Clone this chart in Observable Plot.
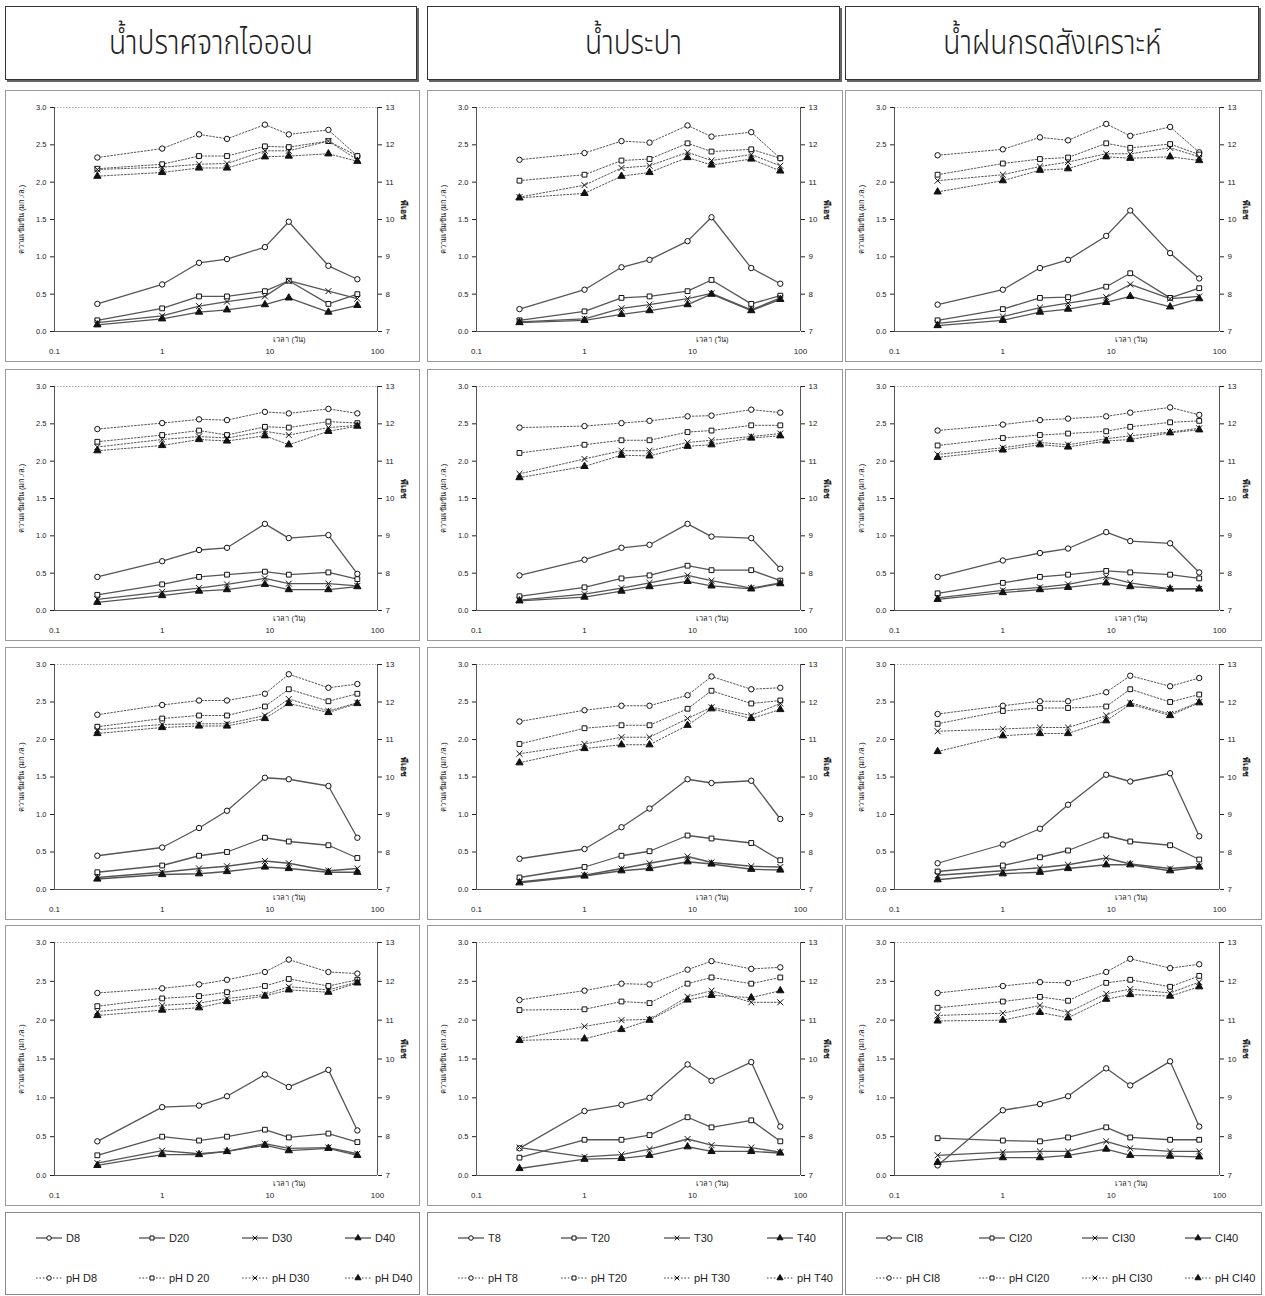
<!DOCTYPE html>
<html>
<head>
<meta charset="utf-8">
<script src="https://cdn.jsdelivr.net/npm/d3@7"></script>
<script src="https://cdn.jsdelivr.net/npm/@observablehq/plot@0.6"></script>
<style>
  body { margin: 0; background: #fff; }
  #page { position: relative; width: 1265px; height: 1296px; background: #fff; }
  .head {
    position: absolute; box-sizing: border-box; background: #fff;
    border: 1.5px solid #333; box-shadow: 2px 2px 0 #666;
    display: flex; align-items: center; justify-content: center;
    font-family: "Noto Sans Thai", "Noto Sans", "DejaVu Sans", sans-serif;
    font-size: 34px; font-weight: 300; color: #222;
  }
  .head span { display: inline-block; transform: scaleX(0.83); }
  .panel { position: absolute; box-sizing: border-box; border: 1px solid #999; background: #fff; }
  .legend { position: absolute; box-sizing: border-box; border: 1px solid #888; background: #fff;
    font-family: "Liberation Sans Narrow", "Liberation Sans", Arial, sans-serif; font-size: 11px; color: #222; }
  .item { position: absolute; display: flex; align-items: center; gap: 4px; white-space: nowrap; }
</style>
</head>
<body>
<div id="page"></div>
<script>
// sampling times (days)
const times = [0.25, 1, 2.2, 4, 9, 15, 35, 65];

const waterTypes = ["น้ำปราศจากไอออน", "น้ำประปา", "น้ำฝนกรดสังเคราะห์"];
const concLabels = [["D8", "D20", "D30", "D40"], ["T8", "T20", "T30", "T40"], ["CI8", "CI20", "CI30", "CI40"]];
const phLabels = [["pH D8", "pH D 20", "pH D30", "pH D40"], ["pH T8", "pH T20", "pH T30", "pH T40"], ["pH CI8", "pH CI20", "pH CI30", "pH CI40"]];
const concTicks = [0, 0.5, 1, 1.5, 2, 2.5, 3];
const timeTicks = [0.1, 1, 10, 100];

// concentration (mg/L), series order 8 / 20 / 30 / 40
const concD1 = [[0.37, 0.63, 0.92, 0.97, 1.13, 1.47, 0.88, 0.70], [0.15, 0.31, 0.47, 0.47, 0.54, 0.68, 0.37, 0.50], [0.12, 0.21, 0.34, 0.40, 0.47, 0.68, 0.54, 0.44], [0.09, 0.17, 0.26, 0.29, 0.36, 0.45, 0.26, 0.35]];
const concT1 = [[0.30, 0.56, 0.86, 0.96, 1.21, 1.53, 0.85, 0.64], [0.15, 0.27, 0.45, 0.47, 0.54, 0.69, 0.37, 0.48], [0.13, 0.17, 0.31, 0.36, 0.44, 0.51, 0.29, 0.45], [0.12, 0.15, 0.23, 0.28, 0.36, 0.50, 0.28, 0.43]];
const concC1 = [[0.36, 0.56, 0.85, 0.96, 1.28, 1.62, 1.05, 0.71], [0.15, 0.30, 0.45, 0.46, 0.60, 0.78, 0.45, 0.58], [0.11, 0.20, 0.32, 0.38, 0.46, 0.63, 0.44, 0.47], [0.08, 0.15, 0.26, 0.30, 0.39, 0.47, 0.33, 0.44]];
const concD2 = [[0.45, 0.66, 0.81, 0.84, 1.16, 0.97, 1.01, 0.49], [0.21, 0.35, 0.45, 0.48, 0.52, 0.48, 0.51, 0.42], [0.15, 0.25, 0.30, 0.35, 0.43, 0.36, 0.36, 0.33], [0.11, 0.20, 0.26, 0.28, 0.35, 0.28, 0.28, 0.32]];
const concT2 = [[0.47, 0.68, 0.84, 0.88, 1.16, 0.99, 0.97, 0.56], [0.19, 0.31, 0.43, 0.47, 0.60, 0.54, 0.54, 0.40], [0.14, 0.22, 0.30, 0.37, 0.47, 0.40, 0.30, 0.37], [0.13, 0.18, 0.26, 0.32, 0.39, 0.33, 0.29, 0.36]];
const concC2 = [[0.45, 0.67, 0.77, 0.83, 1.05, 0.93, 0.90, 0.51], [0.23, 0.37, 0.45, 0.48, 0.53, 0.51, 0.48, 0.43], [0.17, 0.27, 0.31, 0.35, 0.45, 0.37, 0.29, 0.29], [0.15, 0.24, 0.28, 0.31, 0.37, 0.32, 0.29, 0.29]];
const concD3 = [[0.45, 0.56, 0.82, 1.05, 1.49, 1.47, 1.38, 0.69], [0.23, 0.32, 0.45, 0.50, 0.69, 0.64, 0.59, 0.42], [0.16, 0.23, 0.28, 0.31, 0.38, 0.35, 0.25, 0.28], [0.14, 0.20, 0.21, 0.24, 0.30, 0.28, 0.23, 0.23]];
const concT3 = [[0.41, 0.54, 0.83, 1.08, 1.47, 1.42, 1.45, 0.94], [0.16, 0.30, 0.45, 0.51, 0.72, 0.68, 0.62, 0.39], [0.10, 0.19, 0.28, 0.35, 0.44, 0.36, 0.31, 0.30], [0.09, 0.18, 0.25, 0.28, 0.37, 0.34, 0.27, 0.26]];
const concC3 = [[0.35, 0.60, 0.81, 1.13, 1.53, 1.44, 1.55, 0.71], [0.24, 0.32, 0.43, 0.52, 0.72, 0.64, 0.59, 0.40], [0.19, 0.25, 0.29, 0.33, 0.42, 0.34, 0.28, 0.31], [0.13, 0.21, 0.23, 0.28, 0.33, 0.33, 0.25, 0.30]];
const concD4 = [[0.44, 0.88, 0.90, 1.02, 1.30, 1.14, 1.36, 0.58], [0.26, 0.50, 0.45, 0.50, 0.59, 0.49, 0.54, 0.43], [0.16, 0.32, 0.28, 0.31, 0.41, 0.35, 0.36, 0.28], [0.13, 0.27, 0.27, 0.31, 0.39, 0.32, 0.35, 0.26]];
const concT4 = [[0.35, 0.83, 0.91, 1.00, 1.43, 1.22, 1.46, 0.63], [0.23, 0.46, 0.46, 0.52, 0.75, 0.62, 0.71, 0.44], [0.36, 0.24, 0.27, 0.34, 0.47, 0.39, 0.36, 0.30], [0.09, 0.21, 0.22, 0.26, 0.37, 0.31, 0.31, 0.29]];
const concC4 = [[0.13, 0.84, 0.92, 1.02, 1.38, 1.16, 1.47, 0.63], [0.48, 0.45, 0.44, 0.49, 0.62, 0.49, 0.46, 0.46], [0.26, 0.30, 0.31, 0.31, 0.44, 0.35, 0.31, 0.31], [0.17, 0.23, 0.23, 0.26, 0.34, 0.26, 0.25, 0.24]];

// pH, series order 8 / 20 / 30 / 40
const phD1 = [[11.66, 11.90, 12.28, 12.16, 12.54, 12.28, 12.40, 11.70], [11.36, 11.48, 11.70, 11.70, 11.96, 11.94, 12.10, 11.70], [11.34, 11.40, 11.48, 11.50, 11.84, 11.84, 12.10, 11.60], [11.16, 11.26, 11.38, 11.38, 11.68, 11.70, 11.76, 11.56]];
const phT1 = [[11.60, 11.78, 12.10, 12.06, 12.52, 12.22, 12.34, 11.64], [11.04, 11.20, 11.58, 11.62, 12.04, 11.82, 11.88, 11.64], [10.60, 10.92, 11.38, 11.44, 11.80, 11.58, 11.74, 11.44], [10.58, 10.70, 11.16, 11.26, 11.66, 11.46, 11.62, 11.30]];
const phC1 = [[11.72, 11.88, 12.20, 12.12, 12.56, 12.24, 12.48, 11.80], [11.20, 11.50, 11.62, 11.66, 12.04, 11.92, 12.02, 11.74], [11.04, 11.20, 11.42, 11.54, 11.76, 11.76, 11.92, 11.68], [10.74, 11.04, 11.32, 11.36, 11.68, 11.64, 11.68, 11.58]];
const phD2 = [[11.86, 12.02, 12.12, 12.10, 12.32, 12.28, 12.40, 12.28], [11.52, 11.70, 11.82, 11.70, 11.92, 11.90, 12.06, 12.02], [11.38, 11.58, 11.66, 11.62, 11.80, 11.70, 11.90, 11.96], [11.28, 11.42, 11.58, 11.54, 11.68, 11.44, 11.80, 11.94]];
const phT2 = [[11.90, 11.94, 12.02, 12.08, 12.20, 12.22, 12.38, 12.30], [11.22, 11.44, 11.56, 11.56, 11.78, 11.82, 11.96, 11.96], [10.66, 11.06, 11.28, 11.28, 11.50, 11.56, 11.66, 11.74], [10.56, 10.86, 11.16, 11.14, 11.40, 11.44, 11.62, 11.68]];
const phC2 = [[11.82, 11.98, 12.10, 12.14, 12.20, 12.30, 12.44, 12.24], [11.42, 11.62, 11.70, 11.74, 11.80, 11.92, 12.04, 12.08], [11.18, 11.36, 11.50, 11.44, 11.60, 11.68, 11.78, 11.88], [11.10, 11.30, 11.44, 11.38, 11.54, 11.58, 11.76, 11.84]];
const phD3 = [[11.66, 11.92, 12.04, 12.04, 12.22, 12.74, 12.38, 12.48], [11.34, 11.56, 11.64, 11.64, 11.88, 12.34, 12.02, 12.22], [11.26, 11.40, 11.42, 11.42, 11.64, 12.08, 11.76, 11.98], [11.16, 11.32, 11.36, 11.36, 11.56, 11.96, 11.72, 11.96]];
const phT3 = [[11.48, 11.78, 11.90, 11.90, 12.18, 12.68, 12.34, 12.38], [10.88, 11.30, 11.38, 11.38, 11.82, 12.30, 11.96, 12.04], [10.62, 10.88, 11.06, 11.06, 11.56, 11.86, 11.64, 11.96], [10.38, 10.76, 10.86, 10.86, 11.38, 11.82, 11.56, 11.80]];
const phC3 = [[11.68, 11.90, 12.02, 12.02, 12.26, 12.70, 12.42, 12.64], [11.42, 11.76, 11.84, 11.84, 11.88, 12.34, 12.00, 12.20], [11.22, 11.28, 11.32, 11.32, 11.64, 11.98, 11.68, 12.00], [10.68, 11.10, 11.16, 11.16, 11.50, 11.94, 11.64, 11.98]];
const phD4 = [[11.70, 11.82, 11.92, 12.04, 12.24, 12.56, 12.24, 12.20], [11.36, 11.56, 11.62, 11.72, 11.88, 12.06, 11.88, 12.04], [11.22, 11.38, 11.44, 11.56, 11.66, 11.86, 11.78, 11.98], [11.12, 11.26, 11.32, 11.48, 11.62, 11.78, 11.72, 11.96]];
const phT4 = [[11.52, 11.76, 11.94, 11.92, 12.30, 12.52, 12.32, 12.36], [11.26, 11.28, 11.48, 11.44, 11.94, 12.10, 11.94, 12.10], [10.52, 10.84, 11.00, 11.02, 11.60, 11.76, 11.46, 11.46], [10.48, 10.52, 10.76, 11.00, 11.52, 11.64, 11.58, 11.76]];
const phC4 = [[11.70, 11.88, 11.98, 11.96, 12.24, 12.58, 12.34, 12.44], [11.32, 11.48, 11.60, 11.50, 11.96, 12.04, 11.86, 12.14], [11.12, 11.18, 11.38, 11.20, 11.68, 11.80, 11.70, 11.98], [10.98, 11.00, 11.20, 11.06, 11.54, 11.66, 11.62, 11.86]];

const concByCol = [[concD1, concD2, concD3, concD4], [concT1, concT2, concT3, concT4], [concC1, concC2, concC3, concC4]];
const phByCol = [[phD1, phD2, phD3, phD4], [phT1, phT2, phT3, phT4], [phC1, phC2, phC3, phC4]];

// marker styles for the four series
const symbols = ["circle", "square", "times", "triangle"];
const fills = ["white", "white", "none", "#111"];
const sizes = [2.7, 2.7, 2.8, 2.7];

// pH (7–13) shares the concentration axis (0–3)
const phToAxis = ph => (ph - 7) / 2;
const axisToPh = v => 7 + 2 * v;

const colX = [5, 427, 845];
const colW = [415, 416, 417];
const rowY = [90, 369, 647, 925];
const rowH = [272, 272, 273, 281];

const page = document.getElementById("page");

// column headings
waterTypes.forEach((name, c) => {
  const h = document.createElement("div");
  h.className = "head";
  Object.assign(h.style, { left: colX[c] + "px", top: "6px", width: (colW[c] - 3) + "px", height: "74px" });
  const span = document.createElement("span");
  span.textContent = name;
  h.appendChild(span);
  page.appendChild(h);
});

const axisFont = '"Liberation Sans Narrow", "Liberation Sans", Arial, sans-serif';

function panel(c, r) {
  const conc = concByCol[c][r];
  const ph = phByCol[c][r];
  const concRows = conc.flatMap((vals, s) => vals.map((v, i) => ({ t: times[i], v, s })));
  const phRows = ph.flatMap((vals, s) => vals.map((p, i) => ({ t: times[i], p, s })));

  const marks = [
    Plot.ruleY([3], { stroke: "#aaa", strokeDasharray: "1.5,1.5" }),
    Plot.ruleY([0], { stroke: "#555" }),
    Plot.ruleX([0.1], { stroke: "#555" }),
    Plot.ruleX([100], { stroke: "#555" }),
    Plot.axisY({ ticks: concTicks, tickFormat: d3.format(".1f"), tickSize: 4, tickPadding: 4,
      label: "ความเข้มข้น (มก./ล.)", labelAnchor: "center", labelArrow: "none", labelOffset: 36, fontSize: 7.5 }),
    Plot.axisY({ anchor: "right", ticks: concTicks, tickFormat: d => String(axisToPh(d)), tickSize: 4, tickPadding: 4, label: null }),
    Plot.axisX({ ticks: timeTicks, tickFormat: d => String(d), tickSize: 0, tickPadding: 17, label: null }),
    Plot.text(["เวลา (วัน)"], { text: d => d, frameAnchor: "bottom-right", dx: -72, dy: 10, fontSize: 7.5 }),
    Plot.text(["พีเอช"], { text: d => d, frameAnchor: "right", rotate: 90, dx: 26, fontSize: 8.5, fontWeight: "bold" }),
    Plot.line(phRows, { x: "t", y: d => phToAxis(d.p), z: "s", stroke: "#555", strokeWidth: 1, strokeDasharray: "1.6,1.8" }),
    Plot.line(concRows, { x: "t", y: "v", z: "s", stroke: "#555", strokeWidth: 1.3 })
  ];
  for (let s = 0; s < 4; s++) {
    const style = { symbol: symbols[s], r: sizes[s], fill: fills[s], stroke: "#111", strokeWidth: 1 };
    marks.push(Plot.dot(phRows.filter(d => d.s === s), { x: "t", y: d => phToAxis(d.p), ...style }));
    marks.push(Plot.dot(concRows.filter(d => d.s === s), { x: "t", y: "v", ...style }));
  }

  const chart = Plot.plot({
    width: colW[c] - 2,
    height: rowH[r] - 2,
    marginLeft: 48,
    marginRight: 42,
    marginTop: 16,
    marginBottom: 30,
    x: { type: "log", domain: [0.1, 100] },
    y: { domain: [0, 3] },
    style: { fontSize: "8px", fontFamily: axisFont, color: "#222", background: "transparent" },
    marks
  });
  const box = document.createElement("div");
  box.className = "panel";
  Object.assign(box.style, { left: colX[c] + "px", top: rowY[r] + "px", width: colW[c] + "px", height: rowH[r] + "px" });
  box.appendChild(chart);
  page.appendChild(box);
}

for (let c = 0; c < 3; c++) for (let r = 0; r < 4; r++) panel(c, r);

// legends: solid lines for concentration, dotted lines for pH
function swatch(s, dotted) {
  const w = 26, h = 10;
  const svg = d3.create("svg").attr("width", w).attr("height", h);
  svg.append("line").attr("x1", 0).attr("x2", w).attr("y1", h / 2).attr("y2", h / 2)
    .attr("stroke", "#444").attr("stroke-width", dotted ? 1 : 1.2)
    .attr("stroke-dasharray", dotted ? "1.6,1.8" : null);
  const symMap = { circle: d3.symbolCircle, square: d3.symbolSquare, times: d3.symbolTimes, triangle: d3.symbolTriangle };
  svg.append("path").attr("transform", `translate(${w / 2},${h / 2})`)
    .attr("d", d3.symbol(symMap[symbols[s]], 16)())
    .attr("fill", fills[s]).attr("stroke", "#111").attr("stroke-width", 1);
  return svg.node();
}

for (let c = 0; c < 3; c++) {
  const lg = document.createElement("div");
  lg.className = "legend";
  Object.assign(lg.style, { left: colX[c] + "px", top: "1212px", width: colW[c] + "px", height: "83px" });
  [concLabels[c], phLabels[c]].forEach((labels, row) => {
    labels.forEach((lab, s) => {
      const it = document.createElement("div");
      it.className = "item";
      Object.assign(it.style, { left: (30 + s * 103) + "px", top: (row === 0 ? 19 : 59) + "px" });
      it.appendChild(swatch(s, row === 1));
      const t = document.createElement("span");
      t.textContent = lab;
      it.appendChild(t);
      lg.appendChild(it);
    });
  });
  page.appendChild(lg);
}
</script>
</body>
</html>
